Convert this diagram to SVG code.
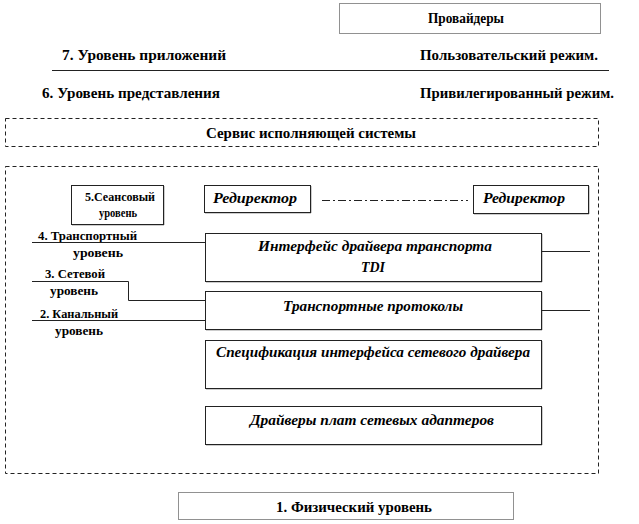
<svg xmlns="http://www.w3.org/2000/svg" width="639" height="524" viewBox="0 0 639 524">
<style>
text{font-weight:bold;fill:#000}
.t13{font-size:15px}
.t10{font-size:11.5px}
.it{font-style:italic;font-size:14px}
.box{fill:#fff;stroke:#222;stroke-width:1}
.shadow{fill:none;stroke:#999;stroke-width:1}
.dash{fill:none;stroke:#222;stroke-width:1;stroke-dasharray:4 3}
.dot{fill:#fff;stroke:#222;stroke-width:1;stroke-dasharray:1 1}
.ln{fill:none;stroke:#222;stroke-width:1}
</style>
<g font-family="Liberation Serif, Times New Roman, serif">
<g id="providers">
<rect class="dot" x="339.5" y="3.5" width="261" height="30"/>
<text class="t13" x="466" y="23" text-anchor="middle" textLength="76" lengthAdjust="spacingAndGlyphs">Провайдеры</text>
</g>
<g id="labels-top">
<text class="t13" x="62" y="60" textLength="164" lengthAdjust="spacingAndGlyphs">7. Уровень приложений</text>
<text class="t13" x="420" y="60" textLength="178" lengthAdjust="spacingAndGlyphs">Пользовательский режим.</text>
<path class="ln" d="M52 70.5H609"/>
<text class="t13" x="42" y="98" textLength="178" lengthAdjust="spacingAndGlyphs">6. Уровень представления</text>
<text class="t13" x="420" y="98" textLength="194" lengthAdjust="spacingAndGlyphs">Привилегированный режим.</text>
</g>
<g id="executive">
<rect class="dash" x="5.5" y="118.5" width="593" height="28"/>
<text class="t13" x="311" y="138" text-anchor="middle" textLength="210" lengthAdjust="spacingAndGlyphs">Сервис исполняющей системы</text>
</g>
<g id="kernel">
<rect class="dash" x="5.5" y="166.5" width="593" height="307"/>
</g>
<g id="session">
<path class="shadow" d="M164 186V225H72"/>
<rect class="box" x="71.5" y="185.5" width="92" height="39"/>
<text class="t10" x="120" y="201" text-anchor="middle" textLength="70" lengthAdjust="spacingAndGlyphs">5.Сеансовый</text>
<text class="t10" x="118" y="217" text-anchor="middle" textLength="38" lengthAdjust="spacingAndGlyphs">уровень</text>
</g>
<g id="redirector1">
<path class="shadow" d="M311 186V213H205"/>
<rect class="box" x="204.5" y="185.5" width="106" height="27"/>
<text class="it" x="255" y="203" text-anchor="middle" textLength="84" lengthAdjust="spacingAndGlyphs">Редиректор</text>
</g>
<g id="redirector2">
<path class="shadow" d="M589 186V214H474"/>
<rect class="box" x="473.5" y="185.5" width="115" height="28"/>
<text class="it" x="524" y="203" text-anchor="middle" textLength="82" lengthAdjust="spacingAndGlyphs">Редиректор</text>
</g>
<g id="tdi">
<path class="shadow" d="M542 234V282H206"/>
<rect class="box" x="205.5" y="233.5" width="336" height="48"/>
<text class="it" x="375" y="251" text-anchor="middle" textLength="234" lengthAdjust="spacingAndGlyphs">Интерфейс драйвера транспорта</text>
<text class="it" x="373" y="272" text-anchor="middle" textLength="24" lengthAdjust="spacingAndGlyphs">TDI</text>
</g>
<g id="protocols">
<path class="shadow" d="M542 292V330H206"/>
<rect class="box" x="205.5" y="291.5" width="336" height="38"/>
<text class="it" x="373" y="311" text-anchor="middle" textLength="180" lengthAdjust="spacingAndGlyphs">Транспортные протоколы</text>
</g>
<g id="ndis">
<path class="shadow" d="M542 341V389H206"/>
<rect class="box" x="205.5" y="340.5" width="336" height="48"/>
<text class="it" x="373" y="357" text-anchor="middle" textLength="314" lengthAdjust="spacingAndGlyphs">Спецификация интерфейса сетевого драйвера</text>
</g>
<g id="adapters">
<path class="shadow" d="M542 407V445H206"/>
<rect class="box" x="205.5" y="406.5" width="336" height="38"/>
<text class="it" x="372" y="425" text-anchor="middle" textLength="244" lengthAdjust="spacingAndGlyphs">Драйверы плат сетевых адаптеров</text>
</g>
<g id="physical">
<rect class="dot" x="178.5" y="492.5" width="335" height="27"/>
<text class="t13" x="354" y="512" text-anchor="middle" textLength="156" lengthAdjust="spacingAndGlyphs">1. Физический уровень</text>
</g>
<g id="layer-labels">
<text class="t10" x="38" y="240" textLength="99" lengthAdjust="spacingAndGlyphs">4. Транспортный</text>
<text class="t10" x="73" y="257" textLength="50" lengthAdjust="spacingAndGlyphs">уровень</text>
<text class="t10" x="45" y="278" textLength="60" lengthAdjust="spacingAndGlyphs">3. Сетевой</text>
<text class="t10" x="50" y="295" textLength="48" lengthAdjust="spacingAndGlyphs">уровень</text>
<text class="t10" x="40" y="318" textLength="78" lengthAdjust="spacingAndGlyphs">2. Канальный</text>
<text class="t10" x="55" y="335" textLength="48" lengthAdjust="spacingAndGlyphs">уровень</text>
</g>
</g>
<g id="connectors">
<path class="ln" d="M322 200.5H468" stroke="#555" stroke-dasharray="8 3 2 3"/>
<path class="ln" d="M32 242.5H205"/>
<path class="ln" d="M32 281.5H128.5V300.5H205"/>
<path class="ln" d="M32 320.5H205" stroke="#555"/>
<path class="ln" d="M542 251.5H590"/>
<path class="ln" d="M542 310.5H590"/>
</g>
</svg>
